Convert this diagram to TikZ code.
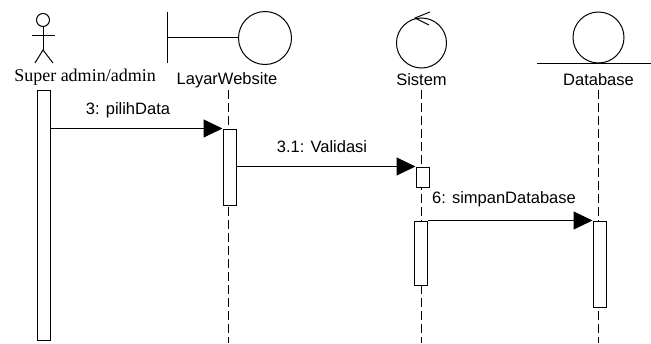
\documentclass[tikz,border=0pt]{standalone}
\usepackage{fontspec}
\setmainfont{Liberation Serif}
\setsansfont{Liberation Sans}
\usetikzlibrary{arrows.meta}

\begin{document}
\begin{tikzpicture}[x=1pt,y=-1pt,line width=1pt]
\tikzstyle{lbl}=[font=\sffamily\fontsize{16.5}{18}\selectfont,inner sep=0pt]
\tikzstyle{bar}=[draw,fill=white,rectangle,minimum width=13pt,inner sep=0pt]
\tikzstyle{life}=[dash pattern=on 9pt off 4pt]
\tikzstyle{msg}=[-{Triangle[length=19pt,width=18pt]}]
\useasboundingbox (0,0) rectangle (651,343);
% actor
\draw (43,20) circle (6.5);
\draw (43,27) -- (43,50);
\draw (32,35) -- (55,35);
\draw (35,63) -- (43,50) -- (53,63);
\node[font=\rmfamily\fontsize{18}{20}\selectfont,inner sep=0pt] (actor) at (85,77) {Super admin/admin};
% boundary
\draw (167,12) -- (167,63);
\draw (167,37) -- (238.5,37);
\draw (265,38) circle (26.5);
\node[lbl] (lw) at (227,80) {LayarWebsite};
% control
\draw (421.5,43) circle (25);
\draw (430,12) -- (415,18) -- (429,25);
\node[lbl] (sis) at (421.5,80) {Sistem};
% entity
\draw (598.5,37.5) circle (25.5);
\draw (537,63) -- (651,63);
\node[lbl] (db) at (598.5,80) {Database};
% lifelines
\coordinate (e1) at (228,343);
\coordinate (e2) at (421,343);
\coordinate (e3) at (598.5,343);
\draw[life] (228,90) -- (e1);
\draw[life] (421,90) -- (e2);
\draw[life] (598.5,90) -- (e3);
% activations
\node[bar,minimum height=250pt] (b0) at (43.5,215) {};
\node[bar,minimum height=76pt] (b1) at (229.5,167) {};
\node[bar,minimum height=20pt] (b2) at (422.5,177) {};
\node[bar,minimum height=64pt] (b3) at (421,253) {};
\node[bar,minimum height=86pt] (b4) at (599.5,264) {};
% messages
\draw[msg] (b0.east |- b1.north) -- (b1.north west);
\draw[msg] (b1.east |- b2.north) -- (b2.north west);
\draw[msg] (b3.north east) -- (b4.north west);
\node[lbl] (m1) at (128,110) {3: pilihData};
\node[lbl] (m2) at (322,147) {3.1: Validasi};
\node[lbl] (m3) at (504,199) {6: simpanDatabase};
\end{tikzpicture}
\end{document}
